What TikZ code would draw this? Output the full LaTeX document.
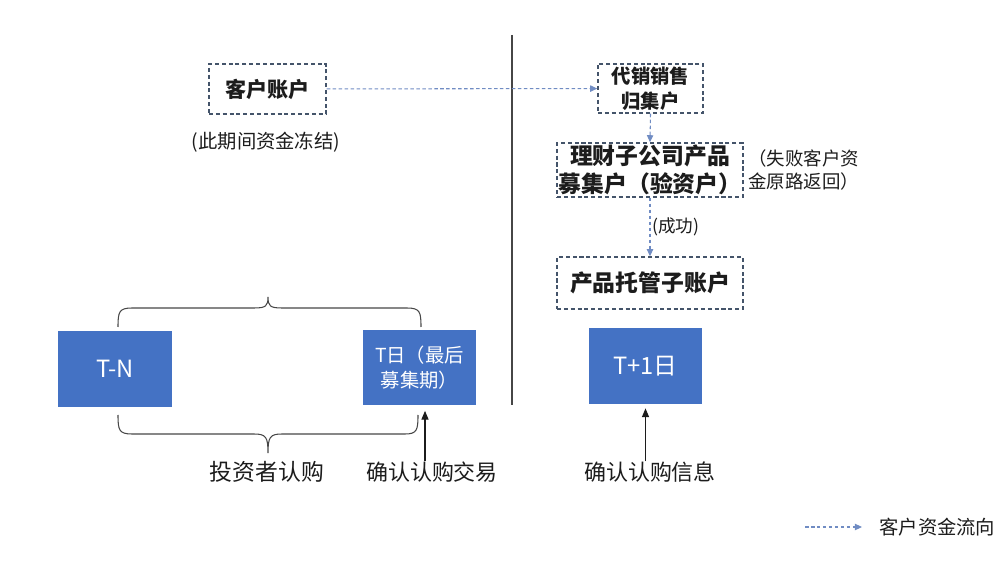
\documentclass[tikz,border=0pt]{standalone}
\usepackage{fontspec}
\setmainfont{Noto Sans CJK SC}
\usetikzlibrary{arrows.meta, positioning, calc}
\definecolor{dayc}{RGB}{68,114,196}
\definecolor{boxc}{RGB}{68,84,106}
\definecolor{flowc}{RGB}{112,140,195}
\definecolor{inkc}{RGB}{28,28,28}
\definecolor{linec}{RGB}{70,70,70}
\tikzset{
  acct/.style={
    rectangle, draw=boxc, line width=0.85pt, dash pattern=on 2.3pt off 1.6pt,
    font=\fontsize{12}{16}\selectfont\bfseries, text=inkc, align=center, inner sep=0pt
  },
  day/.style={
    rectangle, fill=dayc, text=white, align=center, inner sep=0pt,
    minimum width=2.27cm, minimum height=1.52cm
  },
  flow/.style={-{Triangle[length=4pt, width=3.6pt]}, draw=flowc, line width=0.6pt,
               dash pattern=on 2pt off 1.4pt},
  up/.style={-{Triangle[length=5pt, width=4pt]}, draw=inkc, line width=0.7pt},
  brace/.style={draw=linec, line width=0.6pt},
  divider/.style={draw=linec, line width=0.6pt},
  lbl/.style={font=\fontsize{12.5}{15}\selectfont, text=inkc, inner sep=0pt},
  note/.style={font=\fontsize{10.5}{13}\selectfont, text=inkc, inner sep=0pt, align=left},
}

\begin{document}
\begin{tikzpicture}[x=0.02cm, y=-0.02cm]
  \useasboundingbox (0,0) rectangle (1000,570);

  % the split between the two periods
  \coordinate (divtop) at (512,35);
  \coordinate (divbot) at (512,405);
  \draw[divider] (divtop) -- (divbot);

  % accounts the money passes through
  \node[acct, minimum width=2.34cm, minimum height=1.0cm] (cust) at (267.5,89) {客户账户};
  \node[note, font=\fontsize{11}{13}\selectfont] (frozen) at (266,142) {(此期间资金冻结)};

  \node[acct, minimum width=2.1cm, minimum height=0.98cm,
        font=\fontsize{11}{14}\selectfont\bfseries] (pool) at (650.5,88.5) {代销销售\\归集户};
  \node[acct, minimum width=3.72cm, minimum height=1.08cm,
        font=\fontsize{13}{16}\selectfont\bfseries] (raise) at (650,170) {理财子公司产品\\募集户（验资户）};
  \node[note, anchor=west] (refund) at (748,170) {（失败客户资\\金原路返回）};
  \node[acct, minimum width=3.72cm, minimum height=1.04cm,
        font=\fontsize{13}{16}\selectfont\bfseries] (custody) at (650,283) {产品托管子账户};

  \draw[flow] (cust) -- (pool);
  \draw[flow] (pool.south) -- (raise.north);
  \draw[flow] (raise.south) -- node[note, right, xshift=1pt, font=\fontsize{10}{12}\selectfont] (ok) {(成功)} (custody.north);

  % the days
  \node[day, minimum width=2.28cm, font=\fontsize{13.5}{16}\selectfont] (tn) at (115,369) {T-N};
  \node[day, font=\fontsize{11}{14.4}\selectfont] (tday) at (419.5,367.5) {T日（最后\\募集期）};
  \node[day, font=\fontsize{13.5}{16}\selectfont] (tone) at (645.5,366) {T+1日};

  \draw[brace] (118,327) .. controls (118,312) and (119,308) .. (132,308) -- (254,308)
    .. controls (266,308) and (268,306) .. (268,297)
    .. controls (268,306) and (270,308) .. (282,308) -- (407,308)
    .. controls (420,308) and (421,312) .. (421,327);
  \draw[brace] (118,415) .. controls (118,430) and (119,434) .. (132,434) -- (254,434)
    .. controls (266,434) and (268,437) .. (268,453)
    .. controls (268,437) and (270,434) .. (282,434) -- (405,434)
    .. controls (417,434) and (418,430) .. (418,415);

  \node[lbl, font=\fontsize{13}{15}\selectfont] (buy) at (267,472) {投资者认购};
  \node[lbl] (confirm) at (432,472) {确认认购交易};
  \node[lbl] (info) at (650,472) {确认认购信息};

  \coordinate (tarr) at ($(tday.south)+(5.5,5)$);
  \coordinate (narr) at ($(tone.south)+(0,4)$);
  \draw[up] (tarr |- confirm.north) -- (tarr);
  \draw[up] (narr |- info.north) -- (narr);

  % legend
  \coordinate (lgs) at (805,527);
  \coordinate (lge) at (862,527);
  \draw[flow] (lgs) -- (lge);
  \node[note, anchor=west, font=\fontsize{11}{13}\selectfont] (legend) at (879,527) {客户资金流向};

\end{tikzpicture}
\end{document}
